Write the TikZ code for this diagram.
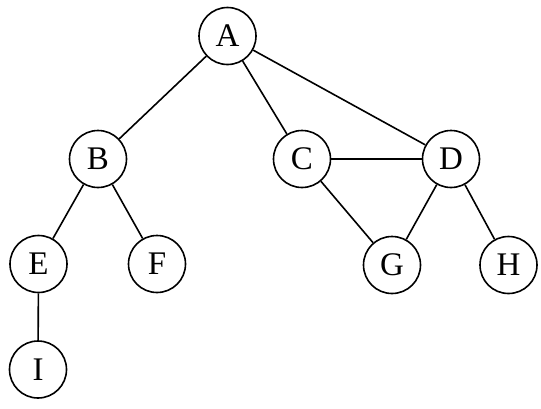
\documentclass[tikz,border=0pt]{standalone}
\usepackage{fontspec}
\setmainfont{Liberation Serif}
\begin{document}
\begin{tikzpicture}[x=1pt,y=-1pt,
  vert/.style={circle,draw,line width=1.6pt,minimum size=57pt,inner sep=0pt,font=\fontsize{33}{33}\selectfont},
  edge/.style={line width=1.6pt}]
\useasboundingbox (0,0) rectangle (541,408);
\node[vert] (A) at (227.5,36) {A};
\node[vert] (B) at (98,159) {B};
\node[vert] (C) at (302,159) {C};
\node[vert] (D) at (451,159) {D};
\node[vert] (E) at (38.5,264) {E};
\node[vert] (F) at (157,264) {F};
\node[vert] (G) at (392,265) {G};
\node[vert] (H) at (508.5,265) {H};
\node[vert] (I) at (38,369.5) {I};
\draw[edge] (A) -- (B);
\draw[edge] (A) -- (C);
\draw[edge] (A) -- (D);
\draw[edge] (B) -- (E);
\draw[edge] (B) -- (F);
\draw[edge] (E) -- (I);
\draw[edge] (C) -- (D);
\draw[edge] (C) -- (G);
\draw[edge] (D) -- (G);
\draw[edge] (D) -- (H);
\end{tikzpicture}
\end{document}
